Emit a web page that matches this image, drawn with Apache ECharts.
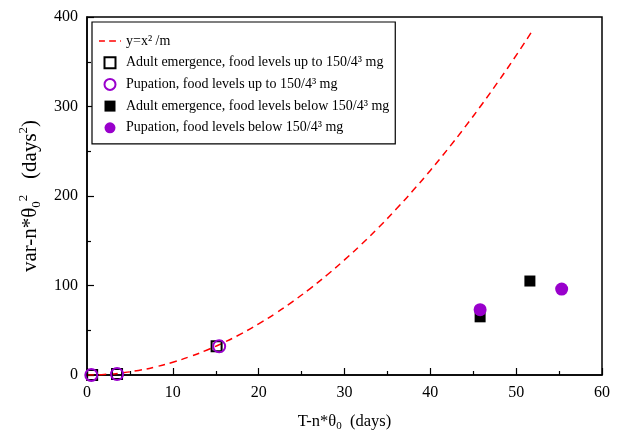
<!DOCTYPE html>
<html>
<head>
<meta charset="utf-8">
<script src="https://cdn.jsdelivr.net/npm/echarts@6/dist/echarts.min.js"></script>
<style>html,body{margin:0;padding:0;background:#fff}#c{width:622px;height:433px}</style>
</head>
<body>
<div id="c"></div>
<script>
// Curve y = x^2/m
const curveX = [0,2,4,6,8,10,12,14,16,18,20,22,24,26,28,30,32,34,36,38,40,42,44,46,48,50,52];
const curveY = [0,0.57,2.29,5.14,9.14,14.3,20.6,28,36.6,46.3,57.1,69.1,82.3,96.6,112,128.6,146.3,165.1,185.1,206.3,228.6,252,276.6,302.3,329.1,357.1,386.3];
// Adult emergence, food levels up to 150/4^3 mg
const adultUpX = [0.6, 3.5, 15.1];
const adultUpY = [0, 1, 32];
// Pupation, food levels up to 150/4^3 mg
const pupUpX = [0.5, 3.5, 15.4];
const pupUpY = [0, 1, 32];
// Adult emergence, food levels below 150/4^3 mg
const adultLowX = [45.8, 51.6];
const adultLowY = [65, 105];
// Pupation, food levels below 150/4^3 mg
const pupLowX = [45.8, 55.3];
const pupLowY = [73, 96];
const xTicks = [0,10,20,30,40,50,60];
const yTicks = [0,100,200,300,400];

const names = [
  'y=x² /m',
  'Adult emergence, food levels up to 150/4³ mg',
  'Pupation, food levels up to 150/4³ mg',
  'Adult emergence, food levels below 150/4³ mg',
  'Pupation, food levels below 150/4³ mg'
];
const zip = (a, b) => a.map((v, i) => [v, b[i]]);
const purple = '#9900CC';
const font = 'Liberation Serif';
const squareIcon = 'path://M0,0h10v10h-10z';
const dashIcon = 'path://M0,0h7v2h-7z M12,0h8v2h-8z M25,0h1v2h-1z';

const chart = echarts.init(document.getElementById('c'), null, {renderer: 'canvas'});
chart.setOption({
  animation: false,
  backgroundColor: '#fff',
  textStyle: {fontFamily: font},
  grid: {left: 87, right: 20, top: 17, bottom: 58, show: true, borderColor: '#000', borderWidth: 1.5,
    outerBoundsMode: 'none', containLabel: false},
  legend: {
    orient: 'vertical', left: 92, top: 22,
    backgroundColor: '#fff', borderColor: '#000', borderWidth: 1.2,
    padding: [11, 6, 8, 7], itemWidth: 22, itemHeight: 11, itemGap: 5.7, itemTextGap: 16,
    data: [
      {name: names[0], icon: dashIcon, itemStyle: {color: '#FF0000'}},
      {name: names[1], icon: squareIcon},
      {name: names[2], icon: 'circle'},
      {name: names[3], icon: squareIcon},
      {name: names[4], icon: 'circle'}
    ],
    textStyle: {fontFamily: font, fontSize: 14, color: '#000', lineHeight: 16}
  },
  xAxis: {
    type: 'value', min: 0, max: 60, interval: 10,
    name: '{n|T-n*θ}{sub|0}{n|  (days)}', nameLocation: 'middle', nameGap: 37,
    nameTextStyle: {rich: {
      n: {fontFamily: font, fontSize: 16.5, color: '#000'},
      sub: {fontFamily: font, fontSize: 11, color: '#000', padding: [9, 0, 0, 0]}
    }},
    axisLine: {show: true, lineStyle: {color: '#000', width: 1.5}},
    axisTick: {inside: true, length: 7, lineStyle: {color: '#000', width: 1.2}},
    minorTick: {show: true, splitNumber: 2, length: 4, lineStyle: {color: '#000', width: 1.2}},
    splitLine: {show: false},
    axisLabel: {fontFamily: font, fontSize: 16, color: '#000', margin: 10,
      formatter: v => xTicks.includes(v) ? String(v) : ''}
  },
  yAxis: {
    type: 'value', min: 0, max: 400, interval: 100,
    name: '{n|var-n*θ}{sub|0}{sup|2}{n|   (days}{sup|2}{n|)}', nameLocation: 'middle', nameGap: 38, nameRotate: 90,
    nameTextStyle: {rich: {
      n: {fontFamily: font, fontSize: 21, color: '#000'},
      sub: {fontFamily: font, fontSize: 13, color: '#000', padding: [12, 0, 0, 0]},
      sup: {fontFamily: font, fontSize: 13, color: '#000', padding: [0, 0, 14, 0]}
    }},
    axisLine: {show: true, lineStyle: {color: '#000', width: 1.5}},
    axisTick: {inside: true, length: 7, lineStyle: {color: '#000', width: 1.2}},
    minorTick: {show: true, splitNumber: 2, length: 4, lineStyle: {color: '#000', width: 1.2}},
    splitLine: {show: false},
    axisLabel: {fontFamily: font, fontSize: 16, color: '#000', margin: 9,
      formatter: v => yTicks.includes(v) ? String(v) : ''}
  },
  series: [
    {name: names[0], type: 'line', data: zip(curveX, curveY), symbol: 'none', smooth: true,
      lineStyle: {color: '#FF0000', width: 1.5, type: [7, 5]}, itemStyle: {color: '#FF0000'}, z: 1},
    {name: names[1], type: 'scatter', data: zip(adultUpX, adultUpY), symbol: 'rect', symbolSize: 10,
      itemStyle: {color: 'rgba(255,255,255,0)', borderColor: '#000', borderWidth: 2, opacity: 1}, z: 3},
    {name: names[2], type: 'scatter', data: zip(pupUpX, pupUpY), symbol: 'circle', symbolSize: 12,
      itemStyle: {color: 'rgba(255,255,255,0)', borderColor: purple, borderWidth: 2, opacity: 1}, z: 4},
    {name: names[3], type: 'scatter', data: zip(adultLowX, adultLowY), symbol: 'rect', symbolSize: 11,
      itemStyle: {color: '#000', opacity: 1}, z: 3},
    {name: names[4], type: 'scatter', data: zip(pupLowX, pupLowY), symbol: 'circle', symbolSize: 13,
      itemStyle: {color: purple, opacity: 1}, z: 4}
  ]
});
</script>
</body>
</html>
